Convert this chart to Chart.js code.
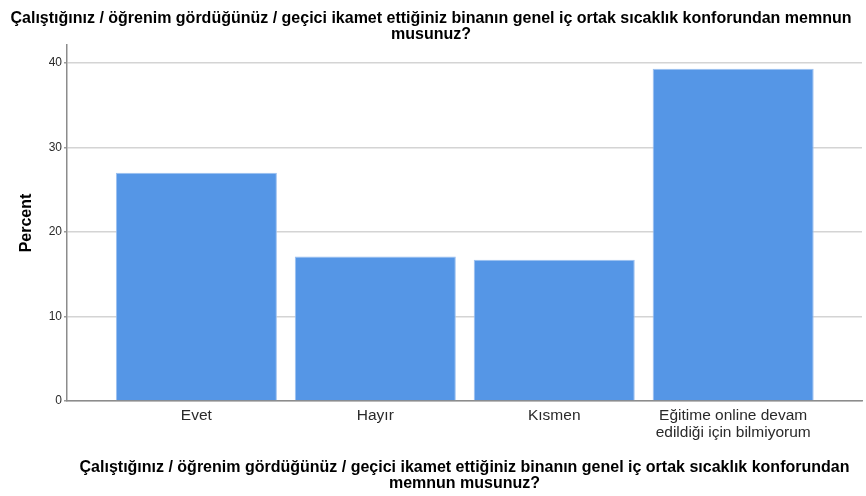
<!DOCTYPE html>
<html lang="tr">
<head>
    <meta charset="UTF-8">
    <title>Sıcaklık konforu</title>
    <script src="https://cdn.jsdelivr.net/npm/chart.js"></script>
    <style>
        body, html {
            margin: 0;
            padding: 0;
            background: #ffffff;
        }
        .chart-container {
            width: 866px;
            height: 496px;
            position: relative;
        }
    </style>
</head>
<body>
    <div class="chart-container">
        <canvas id="percentChart"></canvas>
    </div>

    <script>
        // Data
        const categories = [
            ['Evet'],
            ['Hayır'],
            ['Kısmen'],
            ['Eğitime online devam', 'edildiği için bilmiyorum']
        ];
        const percents = [27.0, 17.1, 16.7, 39.3];
        const yTicks = [0, 10, 20, 30, 40];
        const question = [
            'Çalıştığınız / öğrenim gördüğünüz / geçici ikamet ettiğiniz binanın genel iç ortak sıcaklık konforundan memnun',
            'musunuz?'
        ];
        const axisQuestion = [
            'Çalıştığınız / öğrenim gördüğünüz / geçici ikamet ettiğiniz binanın genel iç ortak sıcaklık konforundan',
            'memnun musunuz?'
        ];

        const fontFamily = '"Liberation Sans", Arial, sans-serif';
        const points = percents.map((p, i) => ({ x: i, y: p }));

        const ctx = document.getElementById('percentChart').getContext('2d');
        const percentChart = new Chart(ctx, {
            type: 'bar',
            data: {
                datasets: [{
                    label: 'Percent',
                    data: points,
                    backgroundColor: '#5596e6',
                    borderColor: '#9cc0f0',
                    borderWidth: 1,
                    barPercentage: 0.9,
                    categoryPercentage: 1.0
                }]
            },
            options: {
                responsive: true,
                maintainAspectRatio: false,
                animation: false,
                layout: {
                    padding: { left: 0, right: 4, top: 0, bottom: 4 }
                },
                plugins: {
                    legend: { display: false },
                    tooltip: { enabled: false },
                    title: {
                        display: true,
                        text: question,
                        color: '#000000',
                        font: { family: fontFamily, size: 16, weight: 'bold', lineHeight: 1.0 },
                        padding: { top: 11, bottom: 2 }
                    }
                },
                scales: {
                    x: {
                        type: 'linear',
                        offset: false,
                        min: -0.723,
                        max: 3.72,
                        grid: { display: false, drawTicks: false, offset: false },
                        border: { display: true, color: '#8c8c8c', width: 1.5 },
                        afterBuildTicks: scale => {
                            scale.ticks = categories.map((c, i) => ({ value: i }));
                        },
                        afterFit: scale => { scale.height = 91; },
                        ticks: {
                            autoSkip: false,
                            maxRotation: 0,
                            padding: 6,
                            color: '#2a2a2a',
                            font: { family: fontFamily, size: 15.5, lineHeight: 1.1 },
                            callback: value => categories[value]
                        },
                        title: {
                            display: true,
                            text: axisQuestion,
                            color: '#000000',
                            font: { family: fontFamily, size: 16, weight: 'bold', lineHeight: 1.0 },
                            padding: { top: 0, bottom: 0 }
                        }
                    },
                    y: {
                        min: 0,
                        max: 42.1,
                        afterBuildTicks: scale => {
                            scale.ticks = yTicks.map(v => ({ value: v }));
                        },
                        afterFit: scale => { scale.width = 67; },
                        grid: {
                            color: '#d4d4d4',
                            lineWidth: 1.5,
                            tickLength: 3,
                            tickColor: '#9a9a9a'
                        },
                        border: { display: true, color: '#8c8c8c', width: 1.5 },
                        ticks: {
                            padding: 2,
                            color: '#2a2a2a',
                            font: { family: fontFamily, size: 12 }
                        },
                        title: {
                            display: true,
                            text: 'Percent',
                            color: '#000000',
                            font: { family: fontFamily, size: 16, weight: 'bold' },
                            padding: { top: 17, bottom: 0 }
                        }
                    }
                }
            }
        });
    </script>
</body>
</html>
